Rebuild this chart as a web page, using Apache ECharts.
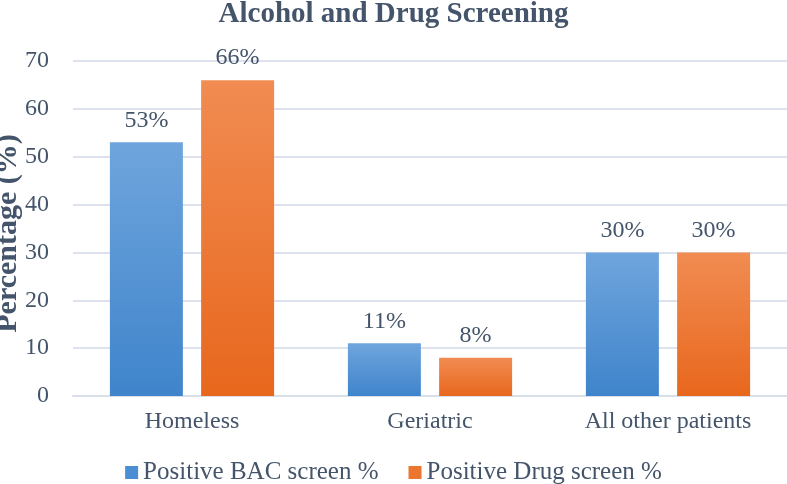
<!DOCTYPE html>
<html>
<head>
<meta charset="utf-8">
<script src="https://cdn.jsdelivr.net/npm/echarts@6/dist/echarts.min.js"></script>
<style>html,body{margin:0;padding:0;background:#fff}#c{width:787px;height:484px}</style>
</head>
<body>
<div id="c"></div>
<script>
var categories = ["Homeless", "Geriatric", "All other patients"];
var bacValues = [53, 11, 30];
var drugValues = [66, 8, 30];
var seriesNames = ["Positive BAC screen %", "Positive Drug screen %"];
var titleText = "Alcohol and Drug Screening";
var yAxisName = "Percentage (%)";

var txt = "#44546a";
var font = "Liberation Serif";
function grad(top, bottom) {
  return new echarts.graphic.LinearGradient(0, 0, 0, 1, [
    {offset: 0, color: top}, {offset: 1, color: bottom}
  ]);
}
var chart = echarts.init(document.getElementById('c'), null, {renderer: 'canvas'});
chart.setOption({
  animation: false,
  backgroundColor: '#fff',
  title: {
    text: titleText, left: 'center', top: -5,
    textStyle: {fontFamily: font, fontWeight: 'bold', fontSize: 29, color: txt}
  },
  legend: {
    top: 455, left: 'center', itemWidth: 13, itemHeight: 13, itemGap: 30,
    icon: 'rect',
    textStyle: {fontFamily: font, fontSize: 25, color: txt},
    data: [
      {name: seriesNames[0], itemStyle: {color: '#4a8fd4'}},
      {name: seriesNames[1], itemStyle: {color: '#ec7530'}}
    ]
  },
  grid: {left: 73, right: 0, top: 61, bottom: 88, containLabel: false, outerBoundsMode: 'none'},
  xAxis: {
    type: 'category', data: categories,
    axisLine: {show: true, lineStyle: {color: '#d9dfe9', width: 2}},
    axisTick: {show: false},
    axisLabel: {fontFamily: font, fontSize: 24, color: txt, margin: 14}
  },
  yAxis: {
    type: 'value', min: 0, max: 70, interval: 10,
    name: yAxisName, nameLocation: 'middle', nameGap: 50, nameRotate: 90,
    nameMoveOverlap: false,
    nameTextStyle: {fontFamily: font, fontWeight: 'bold', fontSize: 30, color: txt, padding: [0, 10, 0, 0]},
    axisLine: {show: false}, axisTick: {show: false},
    axisLabel: {fontFamily: font, fontSize: 24, color: txt, margin: 24},
    splitLine: {lineStyle: {color: '#dde2ec', width: 2}}
  },
  series: [
    {
      name: seriesNames[0], type: 'bar', data: bacValues,
      barGap: '25%', barCategoryGap: '31%',
      itemStyle: {color: grad('#6fa5dd', '#3f84cb')},
      label: {show: true, position: 'top', distance: 10, formatter: '{c}%',
        fontFamily: font, fontSize: 24, color: txt}
    },
    {
      name: seriesNames[1], type: 'bar', data: drugValues,
      barGap: '25%', barCategoryGap: '31%',
      itemStyle: {color: grad('#f18c52', '#e8671d')},
      label: {show: true, position: 'top', distance: 10, formatter: '{c}%',
        fontFamily: font, fontSize: 24, color: txt}
    }
  ]
});
</script>
</body>
</html>
